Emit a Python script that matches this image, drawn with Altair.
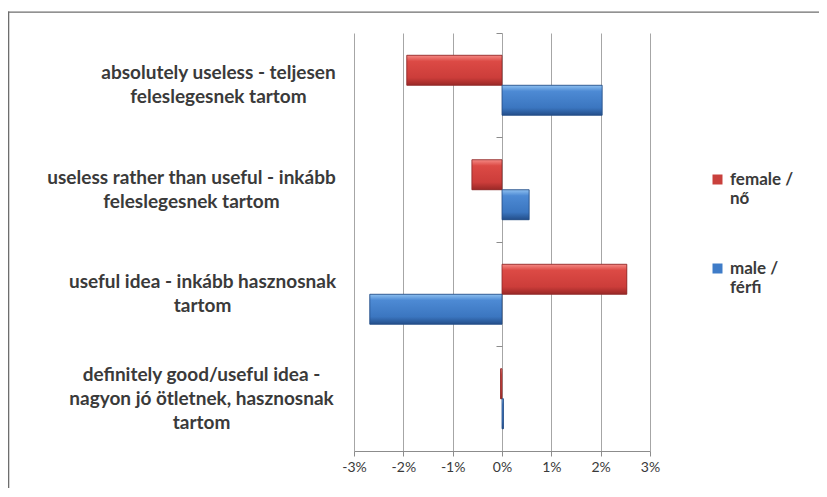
import altair as alt
import pandas as pd

categories = [
    "absolutely useless - teljesen\nfeleslegesnek tartom",
    "useless rather than useful - inkább\nfeleslegesnek tartom",
    "useful idea - inkább hasznosnak\ntartom",
    "definitely good/useful idea -\nnagyon jó ötletnek, hasznosnak\ntartom",
]
series = ["female /\nnő", "male /\nférfi"]
female = [-1.93, -0.61, 2.53, -0.03]
male = [2.03, 0.55, -2.68, 0.03]
x_ticks = [-3, -2, -1, 0, 1, 2, 3]

rows = []
for c, f, m in zip(categories, female, male):
    rows.append({"category": c, "sex": series[0], "value": f / 100})
    rows.append({"category": c, "sex": series[1], "value": m / 100})
df = pd.DataFrame(rows)

FONT = "Lato"
TXT = "#3a3a3a"

# per-label layout (centre of each wrapped label block, and vertical centring)
label_pad = {
    "absolutely": 136,
    "useless rather": 163,
    "useful idea": 152,
    "definitely": 153,
}
pad_cond = [{"test": f"indexof(datum.value, '{k}') == 0", "value": v}
            for k, v in label_pad.items()]
off_cond = [{"test": "indexof(datum.value, 'definitely') == 0", "value": -24}]

x_axis = alt.Axis(values=[v / 100 for v in x_ticks], labelExpr="round(datum.value * 100) + '%'",
                  grid=True, gridColor="#a6a6a6", domainColor="#8c8c8c",
                  tickColor="#8c8c8c", tickSize=5, labelFontSize=14, labelColor=TXT,
                  labelFont=FONT, labelPadding=4, labelFlush=False, title=None)
x_enc = alt.X("value:Q", scale=alt.Scale(domain=[-0.03, 0.03], nice=False), axis=x_axis)
y_scale = alt.Scale(domain=categories, paddingInner=0, paddingOuter=0)
yoff = alt.YOffset("sex:N", scale=alt.Scale(domain=series, paddingInner=0, paddingOuter=0.742))

solid = alt.Chart(df).mark_bar().encode(
    x=x_enc,
    y=alt.Y("category:N", scale=y_scale,
            axis=alt.Axis(labelExpr="split(datum.label, '\\n')", labelFont=FONT,
                          labelFontSize=19, labelFontWeight="bold", labelColor=TXT,
                          labelLineHeight=24, labelAlign="center",
                          labelPadding={"condition": pad_cond, "value": 150},
                          labelOffset={"condition": off_cond, "value": -12},
                          labelLimit=400, ticks=False, domain=False, grid=False,
                          title=None)),
    yOffset=yoff,
    color=alt.Color("sex:N", scale=alt.Scale(domain=series, range=["#c9403c", "#3f7cc8"]),
                    legend=alt.Legend(title=None, orient="none", legendX=355, legendY=138,
                                      symbolType="square", symbolSize=100,
                                      labelExpr="split(datum.label, '\\n')",
                                      labelFont=FONT, labelFontSize=17, labelFontWeight="bold",
                                      labelColor=TXT, labelOffset=4,
                                      labelBaseline="middle", rowPadding=52,
                                      symbolStrokeWidth=0)),
)

red_grad = alt.LinearGradient(gradient="linear", x1=0, y1=0, x2=0, y2=1, stops=[
    alt.GradientStop(color="#f58a85", offset=0),
    alt.GradientStop(color="#dc4a45", offset=0.2),
    alt.GradientStop(color="#cc3d3a", offset=0.75),
    alt.GradientStop(color="#9a2826", offset=1)])
blue_grad = alt.LinearGradient(gradient="linear", x1=0, y1=0, x2=0, y2=1, stops=[
    alt.GradientStop(color="#8ec0f0", offset=0),
    alt.GradientStop(color="#4d8ad4", offset=0.2),
    alt.GradientStop(color="#3b76c0", offset=0.75),
    alt.GradientStop(color="#234e8a", offset=1)])

fem = alt.Chart(df).transform_filter(alt.datum.sex == series[0]).mark_bar(
    fill=red_grad, stroke="#8a2a28", strokeWidth=0.8).encode(
    x=x_enc,
    y=alt.Y("category:N", scale=y_scale,
            axis=alt.Axis(orient="left", offset=-148, labels=False, ticks=True,
                          bandPosition=0, tickSize=6, tickColor="#8c8c8c",
                          domain=False, grid=False, title=None)),
    yOffset=yoff,
)
mal = alt.Chart(df).transform_filter(alt.datum.sex == series[1]).mark_bar(
    fill=blue_grad, stroke="#234a80", strokeWidth=0.8).encode(
    x=x_enc,
    y=alt.Y("category:N", scale=y_scale, axis=None),
    yOffset=yoff,
)

# outer frame (only its top and left edges are inside the picture)
one = pd.DataFrame({"a": [0]})
border_left = alt.Chart(one).mark_rect(color="#6e6e6e", strokeWidth=0).encode(
    x=alt.value(-346), x2=alt.value(-344.7), y=alt.value(-21.6), y2=alt.value(455))
border_top = alt.Chart(one).mark_rect(color="#6e6e6e", strokeWidth=0).encode(
    x=alt.value(-346), x2=alt.value(465), y=alt.value(-21.6), y2=alt.value(-20.3))

chart = alt.layer(solid, fem, mal, border_left, border_top).resolve_axis(
    y="independent").properties(
    width=296, height=418, autosize=alt.AutoSizeParams(type="none"),
    padding={"left": 346, "top": 25, "right": 169, "bottom": 38},
).configure_view(stroke=None)

chart.save("out.html", embed_options={"renderer": "svg", "actions": False})
